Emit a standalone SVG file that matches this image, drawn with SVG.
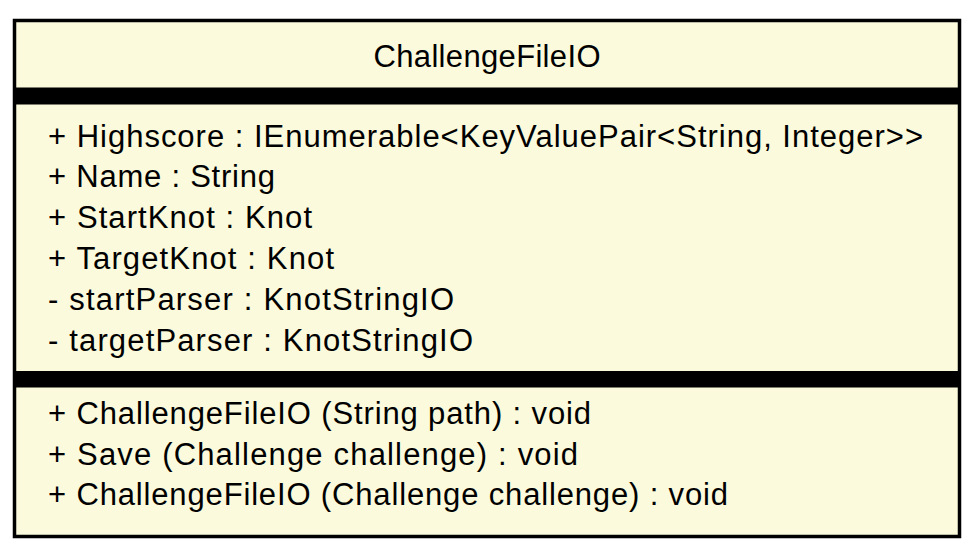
<svg xmlns="http://www.w3.org/2000/svg" width="975" height="558" viewBox="0 0 975 558">
  <style>
    .box { fill: #FBFADC; stroke: #000000; stroke-width: 3.5; }
    .sep { fill: #000000; }
    .t { font-family: "Liberation Sans", Arial, sans-serif; font-size: 31px; fill: #000000; }
  </style>
  <rect width="975" height="558" fill="#FFFFFF"/>
  <g id="ChallengeFileIO">
    <rect class="box" x="14.5" y="20.5" width="945" height="516"/>
    <rect class="sep" x="14.5" y="87.5" width="945" height="17"/>
    <rect class="sep" x="14.5" y="371" width="945" height="16.5"/>
    <text class="t" x="487" y="67" text-anchor="middle" textLength="227" lengthAdjust="spacing">ChallengeFileIO</text>
    <text class="t" x="48" y="146.5" textLength="875" lengthAdjust="spacing">+ Highscore : IEnumerable&lt;KeyValuePair&lt;String, Integer&gt;&gt;</text>
    <text class="t" x="48" y="187.3" textLength="227" lengthAdjust="spacing">+ Name : String</text>
    <text class="t" x="48" y="228.1" textLength="264" lengthAdjust="spacing">+ StartKnot : Knot</text>
    <text class="t" x="48" y="268.9" textLength="286" lengthAdjust="spacing">+ TargetKnot : Knot</text>
    <text class="t" x="48" y="309.7" textLength="406" lengthAdjust="spacing">- startParser : KnotStringIO</text>
    <text class="t" x="48" y="350.5" textLength="425" lengthAdjust="spacing">- targetParser : KnotStringIO</text>
    <text class="t" x="48" y="424.3" textLength="543" lengthAdjust="spacing">+ ChallengeFileIO (String path) : void</text>
    <text class="t" x="48" y="464.8" textLength="530" lengthAdjust="spacing">+ Save (Challenge challenge) : void</text>
    <text class="t" x="48" y="505.3" textLength="680" lengthAdjust="spacing">+ ChallengeFileIO (Challenge challenge) : void</text>
  </g>
  <g id="connectors"></g>
</svg>
